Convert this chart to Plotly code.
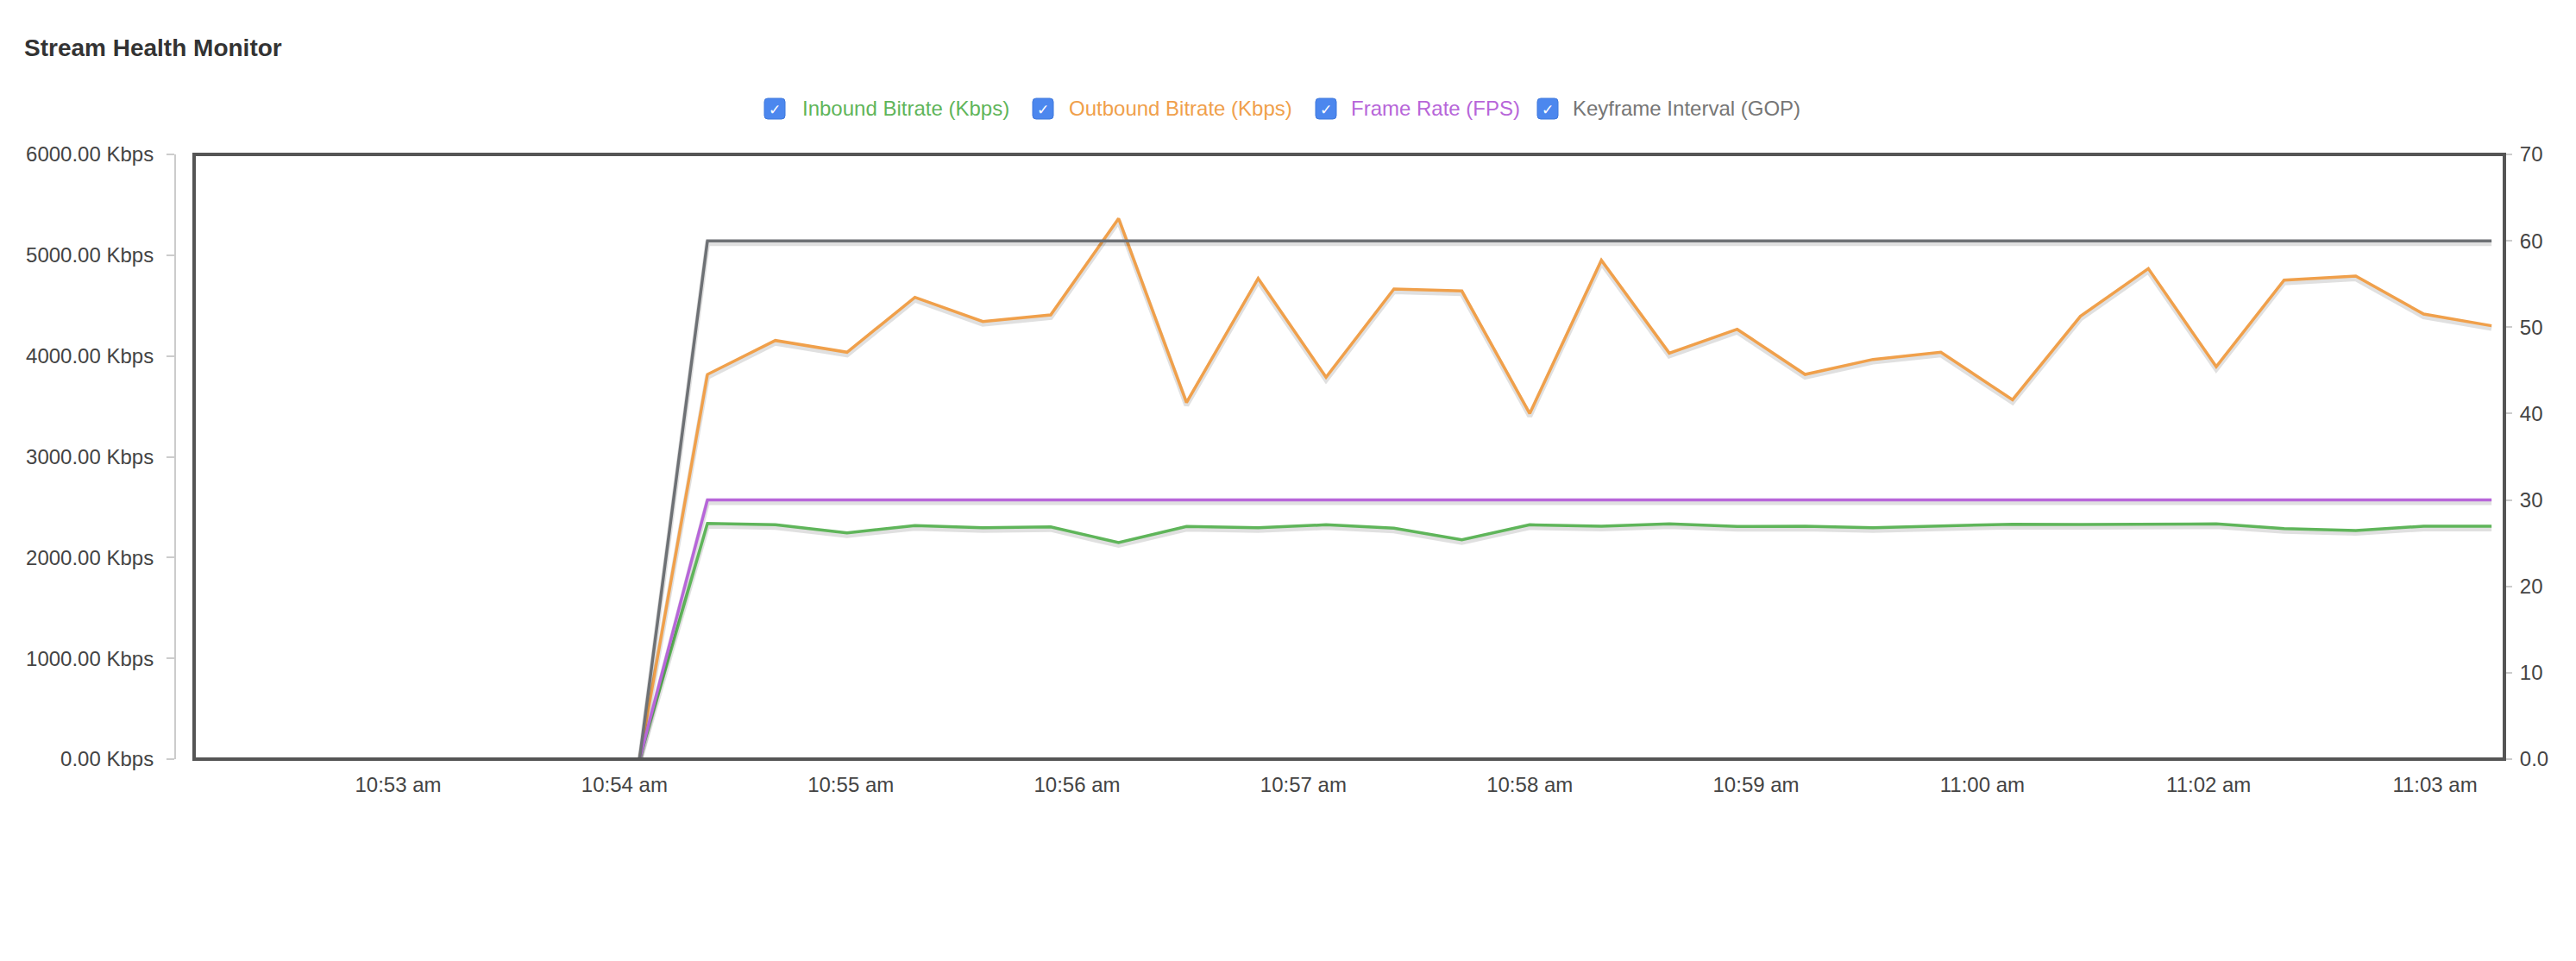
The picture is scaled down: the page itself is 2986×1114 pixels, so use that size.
import plotly.graph_objects as go

# ---------------- data ----------------
times = [
    "2024-01-01 10:54:04", "2024-01-01 10:54:22", "2024-01-01 10:54:40", "2024-01-01 10:54:59",
    "2024-01-01 10:55:17", "2024-01-01 10:55:35", "2024-01-01 10:55:53", "2024-01-01 10:56:11",
    "2024-01-01 10:56:29", "2024-01-01 10:56:48", "2024-01-01 10:57:06", "2024-01-01 10:57:24",
    "2024-01-01 10:57:42", "2024-01-01 10:58:00", "2024-01-01 10:58:19", "2024-01-01 10:58:37",
    "2024-01-01 10:58:55", "2024-01-01 10:59:13", "2024-01-01 10:59:31", "2024-01-01 10:59:49",
    "2024-01-01 11:00:08", "2024-01-01 11:00:26", "2024-01-01 11:00:44", "2024-01-01 11:01:02",
    "2024-01-01 11:01:20", "2024-01-01 11:01:39", "2024-01-01 11:01:57", "2024-01-01 11:02:15",
]
inbound_kbps = [0, 2339, 2325, 2245, 2317, 2297, 2305, 2148, 2308, 2297, 2325, 2291, 2177, 2325,
                2311, 2334, 2308, 2311, 2297, 2311, 2331, 2328, 2328, 2334, 2288, 2268, 2311, 2311]
outbound_kbps = [0, 3817, 4154, 4037, 4582, 4342, 4408, 5364, 3538, 4770, 3789, 4665, 4645, 3429,
                 4950, 4028, 4265, 3817, 3966, 4037, 3566, 4394, 4867, 3894, 4753, 4793, 4416, 4300]
frame_rate = [0, 30, 30, 30, 30, 30, 30, 30, 30, 30, 30, 30, 30, 30,
              30, 30, 30, 30, 30, 30, 30, 30, 30, 30, 30, 30, 30, 30]
keyframe_gop = [0, 60, 60, 60, 60, 60, 60, 60, 60, 60, 60, 60, 60, 60,
                60, 60, 60, 60, 60, 60, 60, 60, 60, 60, 60, 60, 60, 60]

series_names = ["Inbound Bitrate (Kbps)", "Outbound Bitrate (Kbps)", "Frame Rate (FPS)", "Keyframe Interval (GOP)"]
series_colors = ["#5fb55a", "#f0a04b", "#b766d9", "#6e7175"]
legend_text_colors = ["#5fb55a", "#f0a04b", "#b766d9", "#767676"]

x_tick_vals = ["2024-01-01 10:53:00", "2024-01-01 10:54:00", "2024-01-01 10:55:00", "2024-01-01 10:56:00",
               "2024-01-01 10:57:00", "2024-01-01 10:58:00", "2024-01-01 10:59:00", "2024-01-01 11:00:00",
               "2024-01-01 11:01:00", "2024-01-01 11:02:00"]
x_tick_text = ["10:53 am", "10:54 am", "10:55 am", "10:56 am", "10:57 am", "10:58 am", "10:59 am",
               "11:00 am", "11:02 am", "11:03 am"]
right_tick_vals = [0, 10, 20, 30, 40, 50, 60, 70]
right_tick_text = ["0.0", "10", "20", "30", "40", "50", "60", "70"]

# ---------------- layout geometry ----------------
# The page body has an 8px default margin; positions below are screen pixels.
OFF = 8
W, H = 2986 - 2 * OFF, 1114 - 2 * OFF
PLOT_L, PLOT_R, PLOT_T, PLOT_B = 225, 2903, 179, 880   # screen px of the plot frame
PAPER_L, PAPER_R = 200, 2926                          # screen px of paper area
AXIS_LINE_X = 203

ML = PAPER_L - OFF
MR = W - (PAPER_R - OFF)
MT = PLOT_T - OFF
MB = H - (PLOT_B - OFF)
PW = W - ML - MR
PH = H - MT - MB


def fx(px):
    return (px - OFF - ML) / PW


def fy(py):
    return (PLOT_B - py) / PH


FONT = "Liberation Sans, Arial, Helvetica, sans-serif"

fig = go.Figure()

# soft shadows beneath the lines (a few pixels down)
shadow_px = 3
left_shift = shadow_px / PH * 6000
right_shift = shadow_px / PH * 70
all_series = [inbound_kbps, outbound_kbps, frame_rate, keyframe_gop]
axes = ["y", "y", "y2", "y2"]
for vals, ax in zip(all_series, axes):
    sh = left_shift if ax == "y" else right_shift
    fig.add_trace(go.Scatter(
        x=times, y=[v - sh for v in vals], mode="lines", yaxis=ax,
        line=dict(color="rgba(0,0,0,0.12)", width=6), hoverinfo="skip", showlegend=False,
    ))

for vals, ax, name, col in zip(all_series, axes, series_names, series_colors):
    fig.add_trace(go.Scatter(
        x=times, y=vals, mode="lines", yaxis=ax, name=name,
        line=dict(color=col, width=3.5), showlegend=False,
    ))

shapes = []
annotations = []

# plot frame
shapes.append(dict(type="rect", xref="x domain", yref="y domain", x0=0, x1=1, y0=0, y1=1,
                   line=dict(color="#555555", width=4), layer="above"))

# custom checkbox legend
box_lefts = [886, 1197, 1525, 1782]
text_lefts = [928, 1237, 1564, 1821]
box = 24
rad = 4
cy = 126
for bl, tl, name, tcol in zip(box_lefts, text_lefts, series_names, legend_text_colors):
    x0, x1 = bl, bl + box
    y0, y1 = cy - box / 2, cy + box / 2
    rx = rad / PW
    ry = rad / PH
    X0, X1 = fx(x0), fx(x1)
    Yt, Yb = fy(y0), fy(y1)
    path = (f"M {X0 + rx} {Yt} L {X1 - rx} {Yt} Q {X1} {Yt} {X1} {Yt - ry} "
            f"L {X1} {Yb + ry} Q {X1} {Yb} {X1 - rx} {Yb} L {X0 + rx} {Yb} "
            f"Q {X0} {Yb} {X0} {Yb + ry} L {X0} {Yt - ry} Q {X0} {Yt} {X0 + rx} {Yt} Z")
    shapes.append(dict(type="path", xref="paper", yref="paper", path=path,
                       fillcolor="#4c87ee", line=dict(color="#3f78dc", width=1)))
    annotations.append(dict(xref="paper", yref="paper", x=fx(bl + box / 2), y=fy(cy + 1),
                            text="✓", showarrow=False, xanchor="center", yanchor="middle",
                            font=dict(family="DejaVu Sans", size=17, color="white")))
    annotations.append(dict(xref="paper", yref="paper", x=fx(tl), y=fy(cy),
                            text=name, showarrow=False, xanchor="left", yanchor="middle",
                            font=dict(family=FONT, size=24, color=tcol)))

fig.update_layout(
    width=W, height=H,
    margin=dict(l=ML, r=MR, t=MT, b=MB, pad=0),
    paper_bgcolor="white", plot_bgcolor="white",
    title=dict(text="<b>Stream Health Monitor</b>", xref="container", yref="container",
               x=(28 - OFF) / W, y=1 - (55 - OFF) / H, xanchor="left", yanchor="middle",
               font=dict(family=FONT, size=28, color="#333333")),
    showlegend=False,
    shapes=shapes,
    annotations=annotations,
    xaxis=dict(
        type="date",
        domain=[fx(PLOT_L), fx(PLOT_R)],
        range=["2024-01-01 10:52:05.9", "2024-01-01 11:02:18.4"],
        tickmode="array", tickvals=x_tick_vals, ticktext=x_tick_text,
        ticks="outside", ticklen=8, tickcolor="rgba(0,0,0,0)",
        showgrid=False, zeroline=False, showline=False,
        tickfont=dict(family=FONT, size=24, color="#444444"),
    ),
    yaxis=dict(
        range=[0, 6000], tick0=0, dtick=1000, tickformat=".2f", ticksuffix=" Kbps",
        anchor="free", position=fx(AXIS_LINE_X),
        showline=True, linecolor="#cccccc", linewidth=2,
        ticks="outside", ticklen=9, tickcolor="#cccccc", tickwidth=2,
        ticklabelstandoff=10,
        showgrid=False, zeroline=False,
        tickfont=dict(family=FONT, size=24, color="#444444"),
    ),
    yaxis2=dict(
        range=[0, 70], tickmode="array", tickvals=right_tick_vals, ticktext=right_tick_text,
        overlaying="y", side="right", anchor="free", position=fx(PLOT_R),
        showline=False, ticks="outside", ticklen=8, tickcolor="#cccccc", tickwidth=2,
        ticklabelstandoff=4,
        showgrid=False, zeroline=False,
        tickfont=dict(family=FONT, size=24, color="#444444"),
    ),
)

fig.write_html("out.html")
